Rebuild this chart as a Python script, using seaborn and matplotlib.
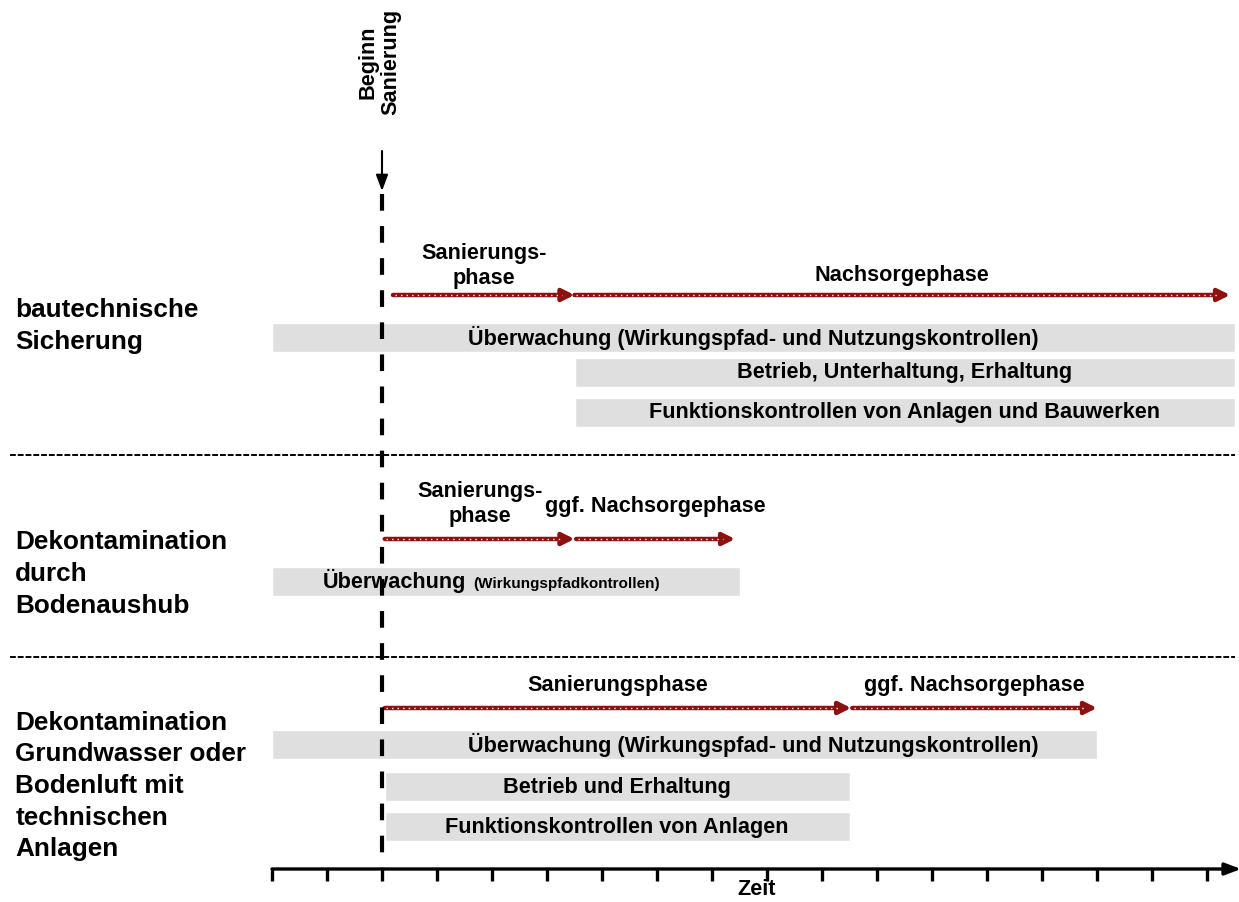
"""
Sanierung timeline - Zeitablauf von Überwachung, Betrieb und Nachsorge
"""

import matplotlib.pyplot as plt
import seaborn as sns

# Data (time in timeline ticks, t=0 is the first tick)
BEGINN = 2.0
TICKS = list(range(0, 18))

SECTIONS = ["bautechnische\nSicherung",
            "Dekontamination\ndurch\nBodenaushub",
            "Dekontamination\nGrundwasser oder\nBodenluft mit\ntechnischen\nAnlagen"]

PHASE_LABELS = ["Sanierungs-\nphase", "Nachsorgephase",
                "Sanierungs-\nphase", "ggf. Nachsorgephase",
                "Sanierungsphase", "ggf. Nachsorgephase"]
PHASE_START = [2.2, 5.5, 2.05, 5.53, 2.05, 10.55]
PHASE_END = [5.5, 17.42, 5.5, 8.42, 10.53, 15.0]
PHASE_SECTION = [0, 0, 1, 1, 2, 2]

TASK_LABELS = ["Überwachung (Wirkungspfad- und Nutzungskontrollen)",
               "Betrieb, Unterhaltung, Erhaltung",
               "Funktionskontrollen von Anlagen und Bauwerken",
               "Überwachung",
               "Überwachung (Wirkungspfad- und Nutzungskontrollen)",
               "Betrieb und Erhaltung",
               "Funktionskontrollen von Anlagen"]
TASK_NOTE = ["", "", "", "(Wirkungspfadkontrollen)", "", "", ""]
TASK_START = [0, 5.5, 5.5, 0, 0, 2.05, 2.05]
TASK_END = [17.5, 17.5, 17.5, 8.5, 15.0, 10.5, 10.5]
TASK_SECTION = [0, 0, 0, 1, 2, 2, 2]
TASK_LANE = [0, 1, 2, 0, 0, 1, 2]

# Layout (vertical positions in pixel rows of the page)
SECTION_Y = [326, 574, 786]
ARROW_Y = [296, 540, 709]
PHASE_LABEL_Y = [266, 276, 504, 507, 686, 686]
LANE_Y = [[338, 373, 413], [582], [745, 788, 828]]
SEPARATOR_Y = [456, 658]
AXIS_Y = 870
BAR_H = 29
RED = "#8c1111"
GREY = "#dfdfdf"
FS = 15.6


def draw_phase_arrow(ax, x0, x1, y):
    ax.annotate("", xy=(x1, y), xytext=(x0, y), annotation_clip=False,
                arrowprops=dict(arrowstyle="-|>,head_length=0.6,head_width=0.3",
                                color=RED, lw=3.2, shrinkA=0, shrinkB=0),
                zorder=4)
    ax.plot([x0 + 0.03, x1 - 0.22], [y, y], color="white", lw=1.0,
            linestyle=(0, (1, 3)), zorder=5)


def main():
    sns.set_theme(style="white")
    plt.rcParams["font.family"] = ["Liberation Sans", "DejaVu Sans"]
    plt.rcParams["font.weight"] = "bold"
    plt.rcParams["text.color"] = "black"

    fig = plt.figure(figsize=(12.39, 9.03), dpi=100)
    ax = fig.add_axes([0, 0, 1, 1])
    ax.set_xlim(-272 / 55, (1239 - 272) / 55)
    ax.set_ylim(903, 0)
    ax.axis("off")

    # row labels
    for label, y in zip(SECTIONS, SECTION_Y):
        ax.text(-4.67, y, label, fontsize=18.8, fontweight="bold",
                ha="left", va="center", linespacing=1.4)

    # grey task bars
    for i, label in enumerate(TASK_LABELS):
        y = LANE_Y[TASK_SECTION[i]][TASK_LANE[i]]
        ax.barh(y, TASK_END[i] - TASK_START[i], left=TASK_START[i],
                height=BAR_H, color=GREY, zorder=1)
        xc = (TASK_START[i] + TASK_END[i]) / 2
        if TASK_SECTION[i] == 2 and TASK_LANE[i] == 0:
            xc = 8.76  # same text position as the upper section
        if TASK_NOTE[i]:
            t1 = ax.text(3.53, y + 6, label, fontsize=FS, fontweight="bold",
                         ha="right", va="baseline", zorder=2)
            ax.annotate(TASK_NOTE[i], xy=(1, y + 6), xycoords=(t1, "data"),
                        xytext=(5, 0), textcoords="offset points",
                        fontsize=11, fontweight="bold",
                        ha="left", va="baseline", zorder=2)
        else:
            ax.text(xc, y, label, fontsize=FS, fontweight="bold",
                    ha="center", va="center", zorder=2)

    # phase arrows
    for i, label in enumerate(PHASE_LABELS):
        y = ARROW_Y[PHASE_SECTION[i]]
        draw_phase_arrow(ax, PHASE_START[i], PHASE_END[i], y)
        ax.text((PHASE_START[i] + PHASE_END[i]) / 2, PHASE_LABEL_Y[i], label,
                fontsize=FS, fontweight="bold", ha="center", va="center",
                linespacing=1.2)

    # section separators
    for y in SEPARATOR_Y:
        ax.plot([-4.76, 17.5], [y, y], color="black", lw=1.4,
                linestyle=(0, (3, 1)), zorder=3)

    # start of remediation
    ax.plot([BEGINN, BEGINN], [195, AXIS_Y], color="black", lw=3,
            linestyle=(0, (4, 3.7)), zorder=6)
    ax.annotate("", xy=(BEGINN, 192), xytext=(BEGINN, 152),
                arrowprops=dict(arrowstyle="-|>,head_length=0.8,head_width=0.3",
                                color="black", lw=1.5, shrinkA=0, shrinkB=0))
    ax.text(BEGINN - 0.05, 62, "Beginn\nSanierung", rotation=90, fontsize=FS,
            fontweight="bold", ha="center", va="center", multialignment="center",
            linespacing=1.1)

    # time axis
    ax.annotate("", xy=(17.62, AXIS_Y), xytext=(0, AXIS_Y), annotation_clip=False,
                arrowprops=dict(arrowstyle="-|>,head_length=0.8,head_width=0.3",
                                color="black", lw=2.4, shrinkA=0, shrinkB=0))
    ax.vlines(TICKS, AXIS_Y, AXIS_Y + 12, color="black", lw=2.4)
    ax.text(8.82, 890, "Zeit", fontsize=FS, fontweight="bold",
            ha="center", va="center")

    fig.savefig("out.png", dpi=100)
    plt.close(fig)


if __name__ == "__main__":
    main()
